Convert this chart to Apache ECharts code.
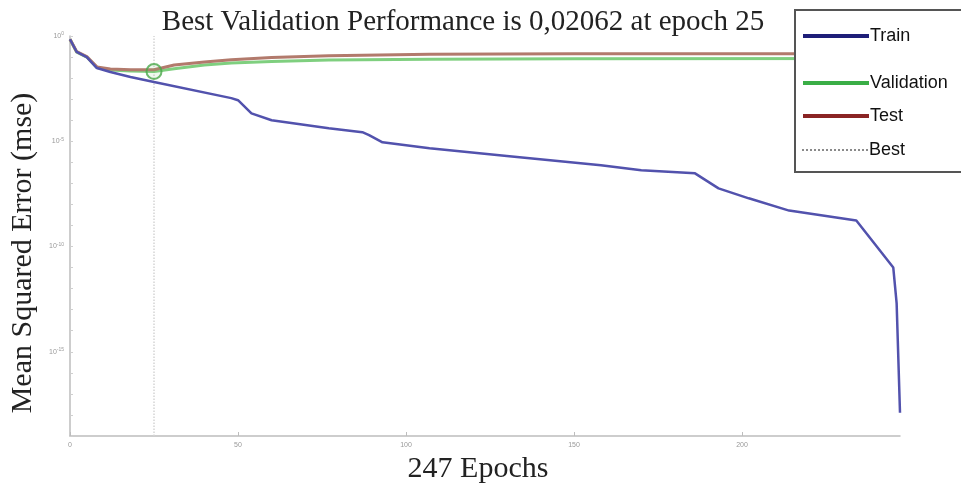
<!DOCTYPE html>
<html>
<head>
<meta charset="utf-8">
<script src="https://cdn.jsdelivr.net/npm/echarts@6/dist/echarts.min.js"></script>
<style>
  html, body { margin: 0; padding: 0; background: #fff; }
  #chart { width: 961px; height: 484px; }
</style>
</head>
<body>
<div id="chart"></div>
<script>
// Training record: epochs and mean squared error per data split
const trainEpochs = [0, 2, 5, 8, 12, 18, 25, 48, 50, 54, 60, 77, 87, 89, 93, 107, 130, 158, 170, 186, 193, 202, 214, 234, 245, 246, 247];
const trainMse = [0.7, 0.174, 0.1, 0.030, 0.0195, 0.0112, 0.0065, 0.00112, 0.00089, 0.00021, 0.0001, 4.2e-5, 2.7e-5, 1.95e-5, 8.9e-6, 4.7e-6, 2.0e-6, 7.2e-7, 4.2e-7, 3.0e-7, 5.8e-8, 1.95e-8, 5.1e-9, 1.74e-9, 1.0e-11, 2.0e-13, 1.26e-18];

const valEpochs = [0, 2, 5, 8, 12, 18, 25, 31, 40, 48, 60, 77, 107, 150, 247];
const valMse = [0.7, 0.17, 0.1, 0.032, 0.024, 0.0215, 0.02062, 0.028, 0.042, 0.052, 0.062, 0.072, 0.079, 0.083, 0.085];

const testEpochs = [0, 2, 5, 8, 12, 18, 25, 31, 40, 48, 60, 77, 107, 150, 247];
const testMse = [0.7, 0.18, 0.105, 0.034, 0.027, 0.025, 0.025, 0.042, 0.058, 0.075, 0.095, 0.115, 0.135, 0.142, 0.145];

const bestEpoch = 25;
const bestPerf = 0.02062;
const totalEpochs = 247;

const xTicks = [0, 50, 100, 150, 200];
const yMinExp = -19;
const yMaxExp = 0;

const pairs = (xs, ys) => xs.map((x, i) => [x, ys[i]]);

const serif = "'Liberation Serif', 'DejaVu Serif', serif";
const sans = "'Liberation Sans', Arial, sans-serif";

const chart = echarts.init(document.getElementById('chart'), null, { renderer: 'canvas' });

// one legend block per entry so each row sits at its own height
const legendItem = (name, top, color, type, width) => ({
  show: true,
  orient: 'vertical',
  left: 796,
  top: top,
  itemWidth: 66,
  itemHeight: 14,
  data: [{ name: name }],
  textStyle: { fontFamily: sans, fontSize: 18, color: '#111', padding: [0, 0, 0, -4] },
  lineStyle: { color: color, width: width || 4, type: type || 'solid' },
  itemStyle: { color: color, opacity: 0 },
  selectedMode: false,
  z: 20
});

chart.setOption({
  animation: false,
  backgroundColor: '#fff',
  title: {
    text: 'Best Validation Performance is 0,02062 at epoch ' + bestEpoch,
    left: 458,
    textAlign: 'center',
    top: 3,
    textStyle: { fontFamily: serif, fontSize: 29, fontWeight: 'normal', color: '#222' }
  },
  grid: { left: 70, right: 61, top: 36, bottom: 48, outerBoundsMode: 'none', containLabel: false },
  xAxis: {
    type: 'value',
    min: 0,
    max: totalEpochs,
    interval: 50,
    name: totalEpochs + ' Epochs',
    nameLocation: 'middle',
    nameGap: 15,
    nameTextStyle: { fontFamily: serif, fontSize: 30, color: '#222', padding: [0, 14, 0, 0] },
    axisLine: { lineStyle: { color: '#bdbdbd', width: 1.5 } },
    axisTick: { inside: true, length: 4, lineStyle: { color: '#bdbdbd' } },
    axisLabel: {
      fontSize: 7, color: '#999', margin: 6,
      showMaxLabel: false,
      formatter: v => (xTicks.indexOf(v) >= 0 ? String(v) : '')
    },
    splitLine: { show: false }
  },
  yAxis: {
    type: 'log',
    logBase: 10,
    min: Math.pow(10, yMinExp),
    max: Math.pow(10, yMaxExp),
    interval: 1,
    name: 'Mean Squared Error (mse)',
    nameLocation: 'middle',
    nameGap: 30,
    nameTextStyle: { fontFamily: serif, fontSize: 30, color: '#222', padding: [0, 34, 0, 0] },
    axisLine: { show: true, lineStyle: { color: '#bdbdbd', width: 1.5 } },
    axisTick: { show: true, inside: true, length: 3, lineStyle: { color: '#cfcfcf' } },
    axisLabel: {
      color: '#999', margin: 6,
      formatter: v => {
        const e = Math.round(Math.log10(v));
        return e % 5 === 0 ? '10{s|' + e + '}' : '';
      },
      rich: { s: { fontSize: 5, color: '#999', verticalAlign: 'top', padding: [0, 0, 4, 0] } },
      fontSize: 7
    },
    splitLine: { show: false },
    minorTick: { show: false }
  },
  legend: [
    legendItem('Train', 22, '#1e1e78'),
    legendItem('Validation', 69, '#3aae46'),
    legendItem('Test', 102, '#8a2424'),
    legendItem('Best', 136, '#8a8a8a', 'dotted', 2)
  ],
  graphic: [{
    type: 'rect',
    shape: { x: 795, y: 10, width: 200, height: 162 },
    style: { fill: '#fff', stroke: '#555', lineWidth: 2 },
    z: 10
  }],
  series: [
    {
      name: 'Best', type: 'line', symbol: 'none',
      data: [[bestEpoch, Math.pow(10, yMinExp)], [bestEpoch, Math.pow(10, yMaxExp)]],
      lineStyle: { color: '#d4d4d4', width: 1.5, type: 'dotted' },
      z: 1
    },
    {
      name: 'Validation', type: 'line', symbol: 'none',
      data: pairs(valEpochs, valMse),
      lineStyle: { color: '#7fcf7f', width: 3 },
      z: 2
    },
    {
      name: 'Test', type: 'line', symbol: 'none',
      data: pairs(testEpochs, testMse),
      lineStyle: { color: '#b27a6c', width: 3 },
      z: 3
    },
    {
      name: 'Train', type: 'line', symbol: 'none',
      data: pairs(trainEpochs, trainMse),
      lineStyle: { color: '#5252ad', width: 2.5 },
      z: 4
    },
    {
      name: 'BestPoint', type: 'scatter',
      data: [[bestEpoch, bestPerf]],
      symbol: 'circle', symbolSize: 15,
      itemStyle: { color: 'rgba(120,200,120,0.15)', borderColor: '#4aa84a', borderWidth: 2 },
      z: 5
    }
  ]
});
</script>
</body>
</html>
